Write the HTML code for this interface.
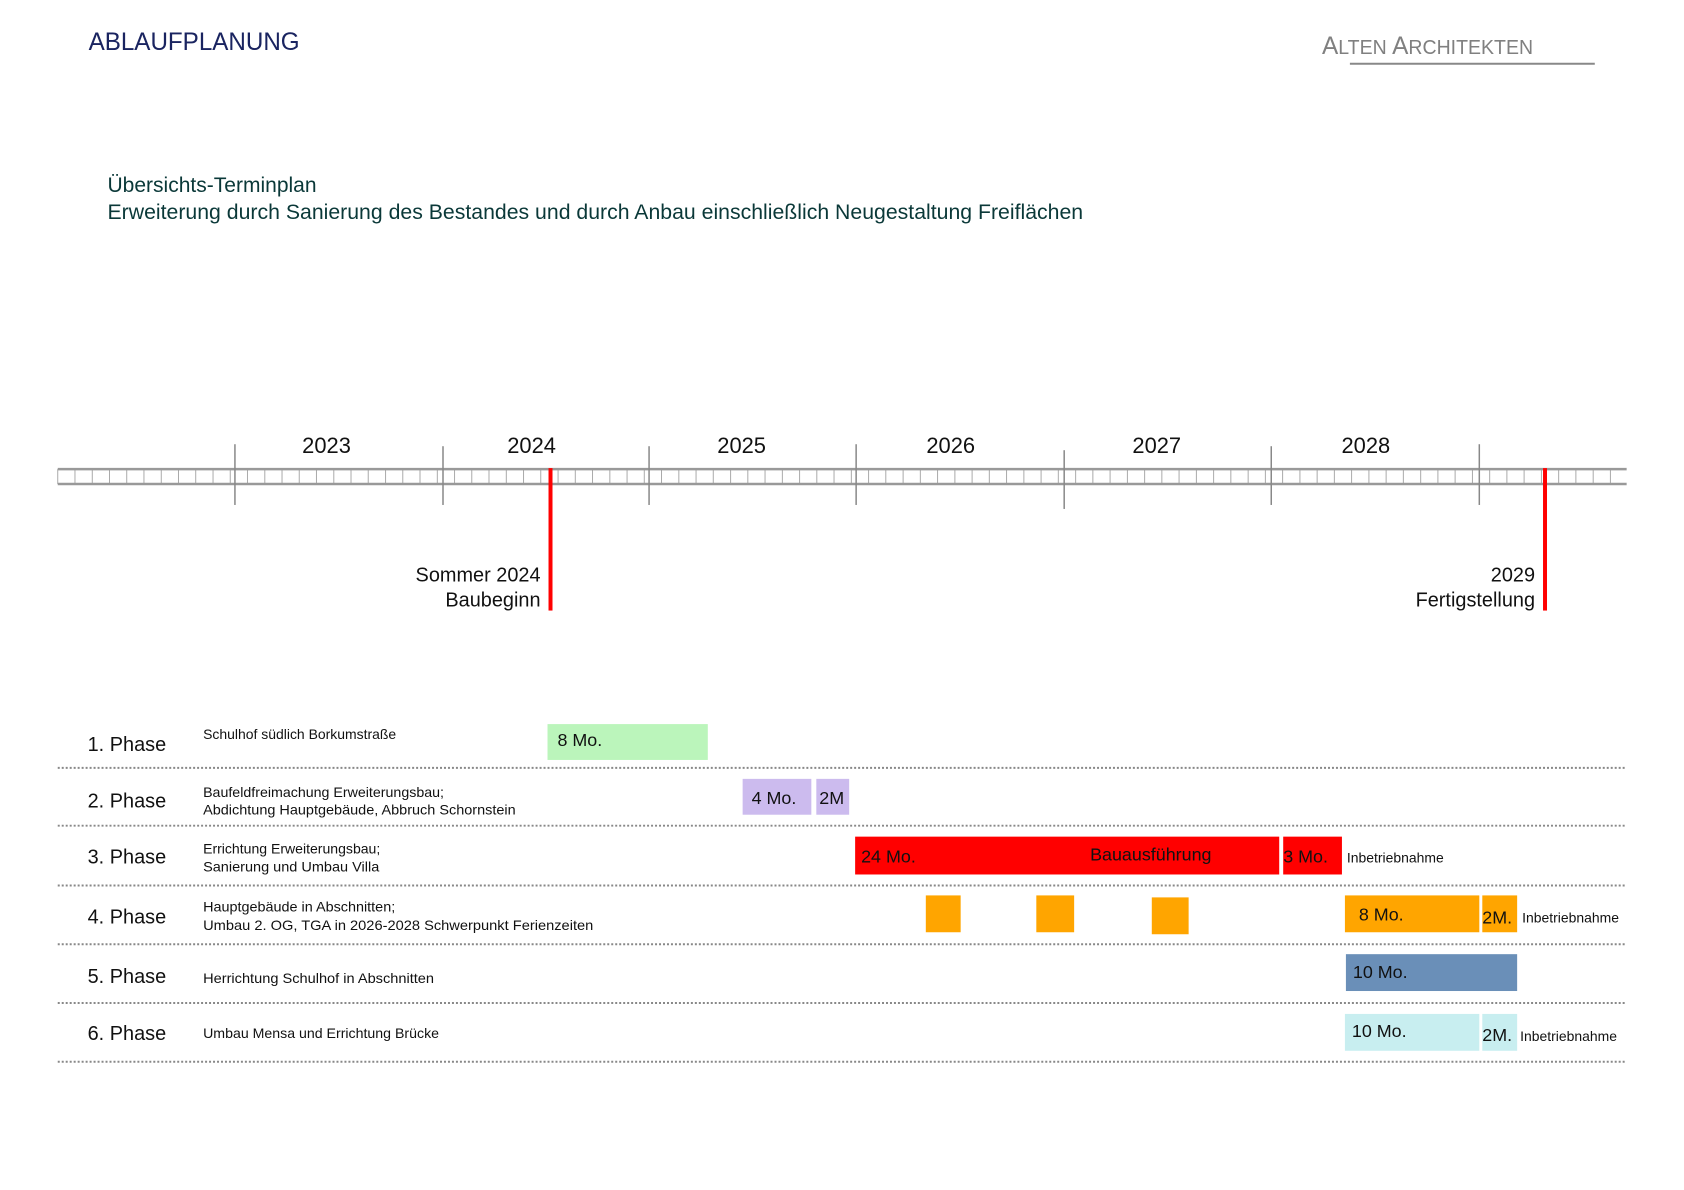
<!DOCTYPE html>
<html><head><meta charset="utf-8"><style>
html,body{margin:0;padding:0;background:#fff;}
svg{display:block;font-family:"Liberation Sans",sans-serif;}
</style></head><body>
<svg width="1684" height="1190" viewBox="0 0 1684 1190" xmlns="http://www.w3.org/2000/svg">
<rect width="1684" height="1190" fill="#fff"/>
<g transform="scale(0.9955 0.996)">
<text x="89" y="50" font-size="25" fill="#1a2460" textLength="212" lengthAdjust="spacingAndGlyphs">ABLAUFPLANUNG</text>
<text x="1328" y="54" fill="#808080" font-size="25" textLength="212" lengthAdjust="spacingAndGlyphs">A<tspan font-size="20">LTEN</tspan> A<tspan font-size="20">RCHITEKTEN</tspan></text>
<line x1="1356" y1="64" x2="1602" y2="64" stroke="#888" stroke-width="2"/>
<text x="108" y="193" font-size="21" fill="#0a3838" textLength="210" lengthAdjust="spacingAndGlyphs">Übersichts-Terminplan</text>
<text x="108" y="220" font-size="21" fill="#0a3838" textLength="980" lengthAdjust="spacingAndGlyphs">Erweiterung durch Sanierung des Bestandes und durch Anbau einschließlich Neugestaltung Freiflächen</text>

<g stroke="#aaa" stroke-width="1">
<path id="months" d=""/>
</g>
<script>
(function(){var d="";for(var i=0;i<=91;i++){var x=58+i*17.33;if(x>1634)break;d+="M"+x.toFixed(1)+" 471V486";}document.getElementById("months").setAttribute("d",d);})();
</script>
<line x1="58" y1="471" x2="1634" y2="471" stroke="#999" stroke-width="2.5"/>
<line x1="58" y1="486" x2="1634" y2="486" stroke="#999" stroke-width="2.5"/>
<g stroke="#888" stroke-width="1.5">
<line x1="236" y1="446" x2="236" y2="507"/>
<line x1="445" y1="448" x2="445" y2="507"/>
<line x1="652" y1="448" x2="652" y2="507"/>
<line x1="860" y1="446" x2="860" y2="507"/>
<line x1="1069" y1="452" x2="1069" y2="511"/>
<line x1="1277" y1="448" x2="1277" y2="507"/>
<line x1="1486" y1="446" x2="1486" y2="507"/>
</g>
<g font-size="22" fill="#111" text-anchor="middle">
<text x="328" y="455">2023</text>
<text x="534" y="455">2024</text>
<text x="745" y="455">2025</text>
<text x="955" y="455">2026</text>
<text x="1162" y="455">2027</text>
<text x="1372" y="455">2028</text>
</g>
<rect x="551" y="470" width="4" height="143" fill="#f00"/>
<rect x="1550" y="470" width="4" height="143" fill="#f00"/>
<g font-size="20" fill="#111" text-anchor="end">
<text x="543" y="584">Sommer 2024</text>
<text x="543" y="609">Baubeginn</text>
<text x="1542" y="584">2029</text>
<text x="1542" y="609">Fertigstellung</text>
</g>

<g stroke="#888" stroke-width="2" stroke-dasharray="2 2">
<line x1="58" y1="771" x2="1634" y2="771"/>
<line x1="58" y1="829" x2="1634" y2="829"/>
<line x1="58" y1="889" x2="1634" y2="889"/>
<line x1="58" y1="948" x2="1634" y2="948"/>
<line x1="58" y1="1007" x2="1634" y2="1007"/>
<line x1="58" y1="1066" x2="1634" y2="1066"/>
</g>
<g font-size="20" fill="#111">
<text x="88" y="754">1. Phase</text>
<text x="88" y="811">2. Phase</text>
<text x="88" y="867">3. Phase</text>
<text x="88" y="927">4. Phase</text>
<text x="88" y="987">5. Phase</text>
<text x="88" y="1044">6. Phase</text>
</g>
<g font-size="14" fill="#111">
<text x="204" y="742" textLength="194" lengthAdjust="spacingAndGlyphs">Schulhof südlich Borkumstraße</text>
<text x="204" y="800" textLength="242" lengthAdjust="spacingAndGlyphs">Baufeldfreimachung Erweiterungsbau;</text>
<text x="204" y="818" textLength="314" lengthAdjust="spacingAndGlyphs">Abdichtung Hauptgebäude, Abbruch Schornstein</text>
<text x="204" y="857" textLength="178" lengthAdjust="spacingAndGlyphs">Errichtung Erweiterungsbau;</text>
<text x="204" y="875" textLength="177" lengthAdjust="spacingAndGlyphs">Sanierung und Umbau Villa</text>
<text x="204" y="915" textLength="193" lengthAdjust="spacingAndGlyphs">Hauptgebäude in Abschnitten;</text>
<text x="204" y="934" textLength="392" lengthAdjust="spacingAndGlyphs">Umbau 2. OG, TGA in 2026-2028 Schwerpunkt Ferienzeiten</text>
<text x="204" y="987" textLength="232" lengthAdjust="spacingAndGlyphs">Herrichtung Schulhof  in Abschnitten</text>
<text x="204" y="1042" textLength="237" lengthAdjust="spacingAndGlyphs">Umbau Mensa und Errichtung Brücke</text>
<text x="1353" y="866">Inbetriebnahme</text>
<text x="1529" y="926">Inbetriebnahme</text>
<text x="1527" y="1045">Inbetriebnahme</text>
</g>

<rect x="550" y="727" width="161" height="36" fill="#bbf5bb"/>
<rect x="746" y="782" width="69" height="36" fill="#ccbbee"/>
<rect x="820" y="782" width="33" height="36" fill="#ccbbee"/>
<rect x="859" y="840" width="426" height="38" fill="#f00"/>
<rect x="1289" y="840" width="59" height="38" fill="#f00"/>
<rect x="930" y="899" width="35" height="37" fill="#ffa500"/>
<rect x="1041" y="899" width="38" height="37" fill="#ffa500"/>
<rect x="1157" y="901" width="37" height="37" fill="#ffa500"/>
<rect x="1351" y="899" width="135" height="37" fill="#ffa500"/>
<rect x="1489" y="899" width="35" height="37" fill="#ffa500"/>
<rect x="1352" y="958" width="172" height="37" fill="#6a8fb8"/>
<rect x="1351" y="1018" width="135" height="37" fill="#c8eef0"/>
<rect x="1489" y="1018" width="35" height="37" fill="#c8eef0"/>
<g font-size="18" fill="#111">
<text x="560" y="749">8 Mo.</text>
<text x="755" y="807">4 Mo.</text>
<text x="823" y="807">2M</text>
<text x="865" y="866">24 Mo.</text>
<text x="1095" y="864">Bauausführung</text>
<text x="1289" y="866">3 Mo.</text>
<text x="1365" y="924">8 Mo.</text>
<text x="1489" y="927">2M.</text>
<text x="1359" y="982">10 Mo.</text>
<text x="1358" y="1041">10 Mo.</text>
<text x="1489" y="1045">2M.</text>
</g>
</g>
</svg>
</body></html>
